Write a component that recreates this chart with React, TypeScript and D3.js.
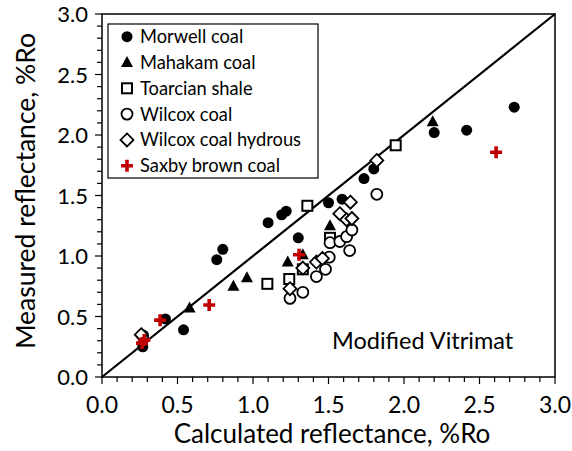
import React from "react";
import * as d3 from "d3";

// Calculated vs measured vitrinite reflectance (%Ro) for each sample set
const morwellCalc = [0.27, 0.42, 0.54, 0.76, 0.8, 1.1, 1.19, 1.22, 1.3, 1.5, 1.59, 1.735, 1.8, 2.2, 2.415, 2.73];
const morwellMeas = [0.25, 0.48, 0.39, 0.97, 1.055, 1.275, 1.34, 1.37, 1.15, 1.44, 1.47, 1.64, 1.72, 2.02, 2.04, 2.23];

const mahakamCalc = [0.58, 0.87, 0.96, 1.23, 1.33, 1.51, 2.19];
const mahakamMeas = [0.57, 0.75, 0.82, 0.95, 1.01, 1.25, 2.11];

const toarcianCalc = [1.095, 1.24, 1.33, 1.36, 1.51, 1.945];
const toarcianMeas = [0.77, 0.81, 0.89, 1.415, 1.15, 1.915];

const wilcoxCalc = [0.27, 1.245, 1.33, 1.42, 1.48, 1.505, 1.51, 1.575, 1.62, 1.655, 1.64, 1.82];
const wilcoxMeas = [0.34, 0.65, 0.7, 0.83, 0.89, 0.99, 1.11, 1.12, 1.16, 1.215, 1.045, 1.51];

const hydrousCalc = [0.26, 1.245, 1.33, 1.42, 1.46, 1.575, 1.62, 1.655, 1.645, 1.82];
const hydrousMeas = [0.35, 0.73, 0.9, 0.95, 0.98, 1.35, 1.3, 1.31, 1.445, 1.79];

const saxbyCalc = [0.265, 0.28, 0.385, 0.71, 1.305, 2.61];
const saxbyMeas = [0.28, 0.305, 0.47, 0.595, 1.01, 1.857];

const seriesNames = [
  "Morwell coal",
  "Mahakam coal",
  "Toarcian shale",
  "Wilcox coal",
  "Wilcox coal hydrous",
  "Saxby brown coal",
];

const majorTicks = [0, 0.5, 1, 1.5, 2, 2.5, 3];
const modelLabel = "Modified Vitrimat";
const xTitle = "Calculated reflectance, %Ro";
const yTitle = "Measured reflectance, %Ro";

type Kind = "dot" | "tri" | "square" | "circle" | "diamond" | "plus";

const FONT = "Lato, 'DejaVu Sans', sans-serif";
const RED = "#C00000";

function Marker({ kind, x, y }: { kind: Kind; x: number; y: number }) {
  switch (kind) {
    case "dot":
      return <circle cx={x} cy={y} r={5.5} fill="#000" />;
    case "tri":
      return <path d={`M${x},${y - 6.5}L${x + 6},${y + 4.5}L${x - 6},${y + 4.5}Z`} fill="#000" />;
    case "square":
      return <rect x={x - 5} y={y - 5} width={10} height={10} fill="#fff" stroke="#000" strokeWidth={2} />;
    case "circle":
      return <circle cx={x} cy={y} r={5.5} fill="#fff" stroke="#000" strokeWidth={1.8} />;
    case "diamond":
      return (
        <path d={`M${x},${y - 6.5}L${x + 6.5},${y}L${x},${y + 6.5}L${x - 6.5},${y}Z`} fill="#fff" stroke="#000" strokeWidth={1.8} />
      );
    case "plus":
      return (
        <path
          d={`M${x - 6},${y}H${x + 6}M${x},${y - 6}V${y + 6}`}
          stroke={RED}
          strokeWidth={3.6}
          fill="none"
        />
      );
  }
}

export default function App() {
  const width = 572;
  const height = 451;
  const left = 102;
  const right = 555;
  const top = 14;
  const bottom = 377;

  const x = d3.scaleLinear().domain([0, 3]).range([left, right]);
  const y = d3.scaleLinear().domain([0, 3]).range([bottom, top]);

  const minor = d3.range(0, 31).map((i) => i / 10);
  const fmt = d3.format(".1f");

  const series: { kind: Kind; xs: number[]; ys: number[] }[] = [
    { kind: "dot", xs: morwellCalc, ys: morwellMeas },
    { kind: "tri", xs: mahakamCalc, ys: mahakamMeas },
    { kind: "square", xs: toarcianCalc, ys: toarcianMeas },
    { kind: "circle", xs: wilcoxCalc, ys: wilcoxMeas },
    { kind: "diamond", xs: hydrousCalc, ys: hydrousMeas },
    { kind: "plus", xs: saxbyCalc, ys: saxbyMeas },
  ];

  const legendX = 108;
  const legendY = 24;
  const rowGap = 25.8;

  return (
    <svg
      width={width}
      height={height}
      style={{ position: "absolute", left: 0, top: 0, background: "#fff" }}
      fontFamily={FONT}
    >
      <rect x={0} y={0} width={width} height={height} fill="#fff" />

      {/* 1:1 line */}
      <line x1={x(0)} y1={y(0)} x2={x(3)} y2={y(3)} stroke="#000" strokeWidth={2.2} />

      {/* frame */}
      <rect x={left} y={top} width={right - left} height={bottom - top} fill="none" stroke="#000" strokeWidth={1.5} />

      {/* ticks */}
      {minor.map((v) => {
        const major = Math.abs(v * 2 - Math.round(v * 2)) < 1e-6;
        const len = major ? 7 : 5;
        return (
          <g key={"t" + v}>
            <line x1={x(v)} x2={x(v)} y1={bottom} y2={bottom + len} stroke="#000" strokeWidth={1.2} />
            <line x1={left - len} x2={left} y1={y(v)} y2={y(v)} stroke="#000" strokeWidth={1.2} />
          </g>
        );
      })}

      {majorTicks.map((v) => (
        <g key={"l" + v} fontSize={23} fill="#000">
          <text x={x(v)} y={413} textAnchor="middle">
            {fmt(v)}
          </text>
          <text x={88} y={y(v) + 8} textAnchor="end" fontSize={22}>
            {fmt(v)}
          </text>
        </g>
      ))}

      <text x={332} y={443} textAnchor="middle" fontSize={26}>
        {xTitle}
      </text>
      <text transform={`translate(35,${191}) rotate(-90)`} textAnchor="middle" fontSize={26.5}>
        {yTitle}
      </text>

      {/* data */}
      {series.map((s, si) => (
        <g key={"s" + si}>
          {s.xs.map((cx, i) => (
            <Marker key={i} kind={s.kind} x={x(cx)} y={y(s.ys[i])} />
          ))}
        </g>
      ))}

      <text x={332} y={349} fontSize={23.5}>
        {modelLabel}
      </text>

      {/* legend */}
      <rect x={legendX} y={legendY} width={210} height={154} fill="#fff" stroke="#000" strokeWidth={1.2} />
      {series.map((s, i) => {
        const cy = legendY + 12.7 + i * rowGap;
        return (
          <g key={"lg" + i}>
            <Marker kind={s.kind} x={127} y={cy} />
            <text x={140} y={cy + 6.5} fontSize={18.3}>
              {seriesNames[i]}
            </text>
          </g>
        );
      })}
    </svg>
  );
}
